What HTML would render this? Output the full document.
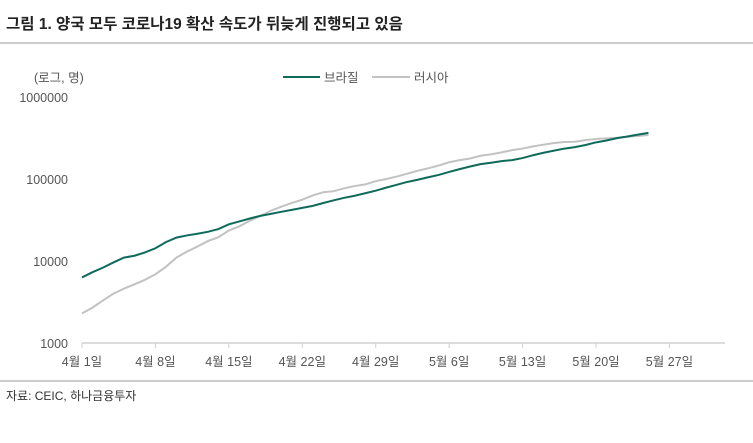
<!DOCTYPE html>
<html><head><meta charset="utf-8"><style>
body{margin:0;background:#fff;width:753px;height:438px;overflow:hidden;font-family:"Liberation Sans","Noto Sans CJK KR",sans-serif}
svg text{font-family:"Liberation Sans","Noto Sans CJK KR",sans-serif}
</style></head><body>
<svg width="753" height="438">
<text x="6" y="29" font-size="15.5" font-weight="bold" fill="#222">그림 1. 양국 모두 코로나19 확산 속도가 뒤늦게 진행되고 있음</text>
<line x1="0" y1="43" x2="753" y2="43" stroke="#999"/>
<line x1="0" y1="381" x2="753" y2="381" stroke="#999"/>
<text x="6" y="400" font-size="12" fill="#333">자료: CEIC, 하나금융투자</text>
<text x="34" y="82" font-size="12.5" fill="#555">(로그, 명)</text>
<g>
<line x1="283" y1="77" x2="320" y2="77" stroke="#0e6b5c" stroke-width="2"/>
<text x="324" y="82" font-size="12.5" fill="#555">브라질</text>
<line x1="372" y1="77" x2="410" y2="77" stroke="#c2c2c2" stroke-width="2"/>
<text x="414" y="82" font-size="12.5" fill="#555">러시아</text>
</g>
<g id="axes"></g>
<g id="series"></g>
</svg>
<script>
const yTicks=[1000,10000,100000,1000000];
const xTickDays=[0,7,14,21,28,35,42,49,56];
const xTickLabels=["4월 1일","4월 8일","4월 15일","4월 22일","4월 29일","5월 6일","5월 13일","5월 20일","5월 27일"];
const brazil=[6300,7300,8300,9600,11000,11600,12700,14300,17000,19300,20500,21500,22700,24500,28000,30400,33000,35500,37600,39800,42000,44500,47000,51000,55000,59000,62500,67000,72000,78500,85000,92000,98000,105000,112000,122000,132000,142000,152000,158000,165000,170000,180000,195000,209000,222000,235000,245000,260000,280000,295000,315000,330000,348000,365000];
const russia=[2300,2700,3300,4000,4600,5200,5900,6900,8500,11000,13000,15000,17500,19500,23500,26500,31000,35500,41000,46000,51000,56000,63000,69000,71000,77000,82000,86000,94000,100000,107000,116000,126000,135000,146000,160000,170000,178000,192000,200000,211000,225000,235000,250000,262000,275000,283000,285000,298000,308000,313000,319000,328000,335000,344000];
const NS="http://www.w3.org/2000/svg";
const x=d=>82+d*10.49;
const y=v=>343-(Math.log10(v)-3)*82;
const ax=document.getElementById('axes');
function mk(t,a,p){const e=document.createElementNS(NS,t);for(const k in a)e.setAttribute(k,a[k]);p.appendChild(e);return e;}
const base=mk('line',{x1:82,y1:343,x2:725,y2:343,stroke:'#d0d0d0','stroke-width':1.5},ax);


yTicks.forEach(v=>{const t=mk('text',{x:68,y:y(v)+5,'font-size':12.5,fill:'#555','text-anchor':'end'},ax);t.textContent=v;

});
xTickDays.forEach((d,i)=>{const l=mk('line',{x1:x(d),y1:343,x2:x(d),y2:348,stroke:'#d0d0d0'},ax);


const t=mk('text',{x:x(d),y:366,'font-size':12.5,fill:'#555','text-anchor':'middle'},ax);t.textContent=xTickLabels[i];

});
const sg=document.getElementById('series');
const pr=mk('polyline',{points:russia.map((v,i)=>x(i)+','+y(v)).join(' '),fill:'none',stroke:'#c2c2c2','stroke-width':2},sg);


const pb=mk('polyline',{points:brazil.map((v,i)=>x(i)+','+y(v)).join(' '),fill:'none',stroke:'#0e6b5c','stroke-width':2},sg);


</script>
</body></html>
